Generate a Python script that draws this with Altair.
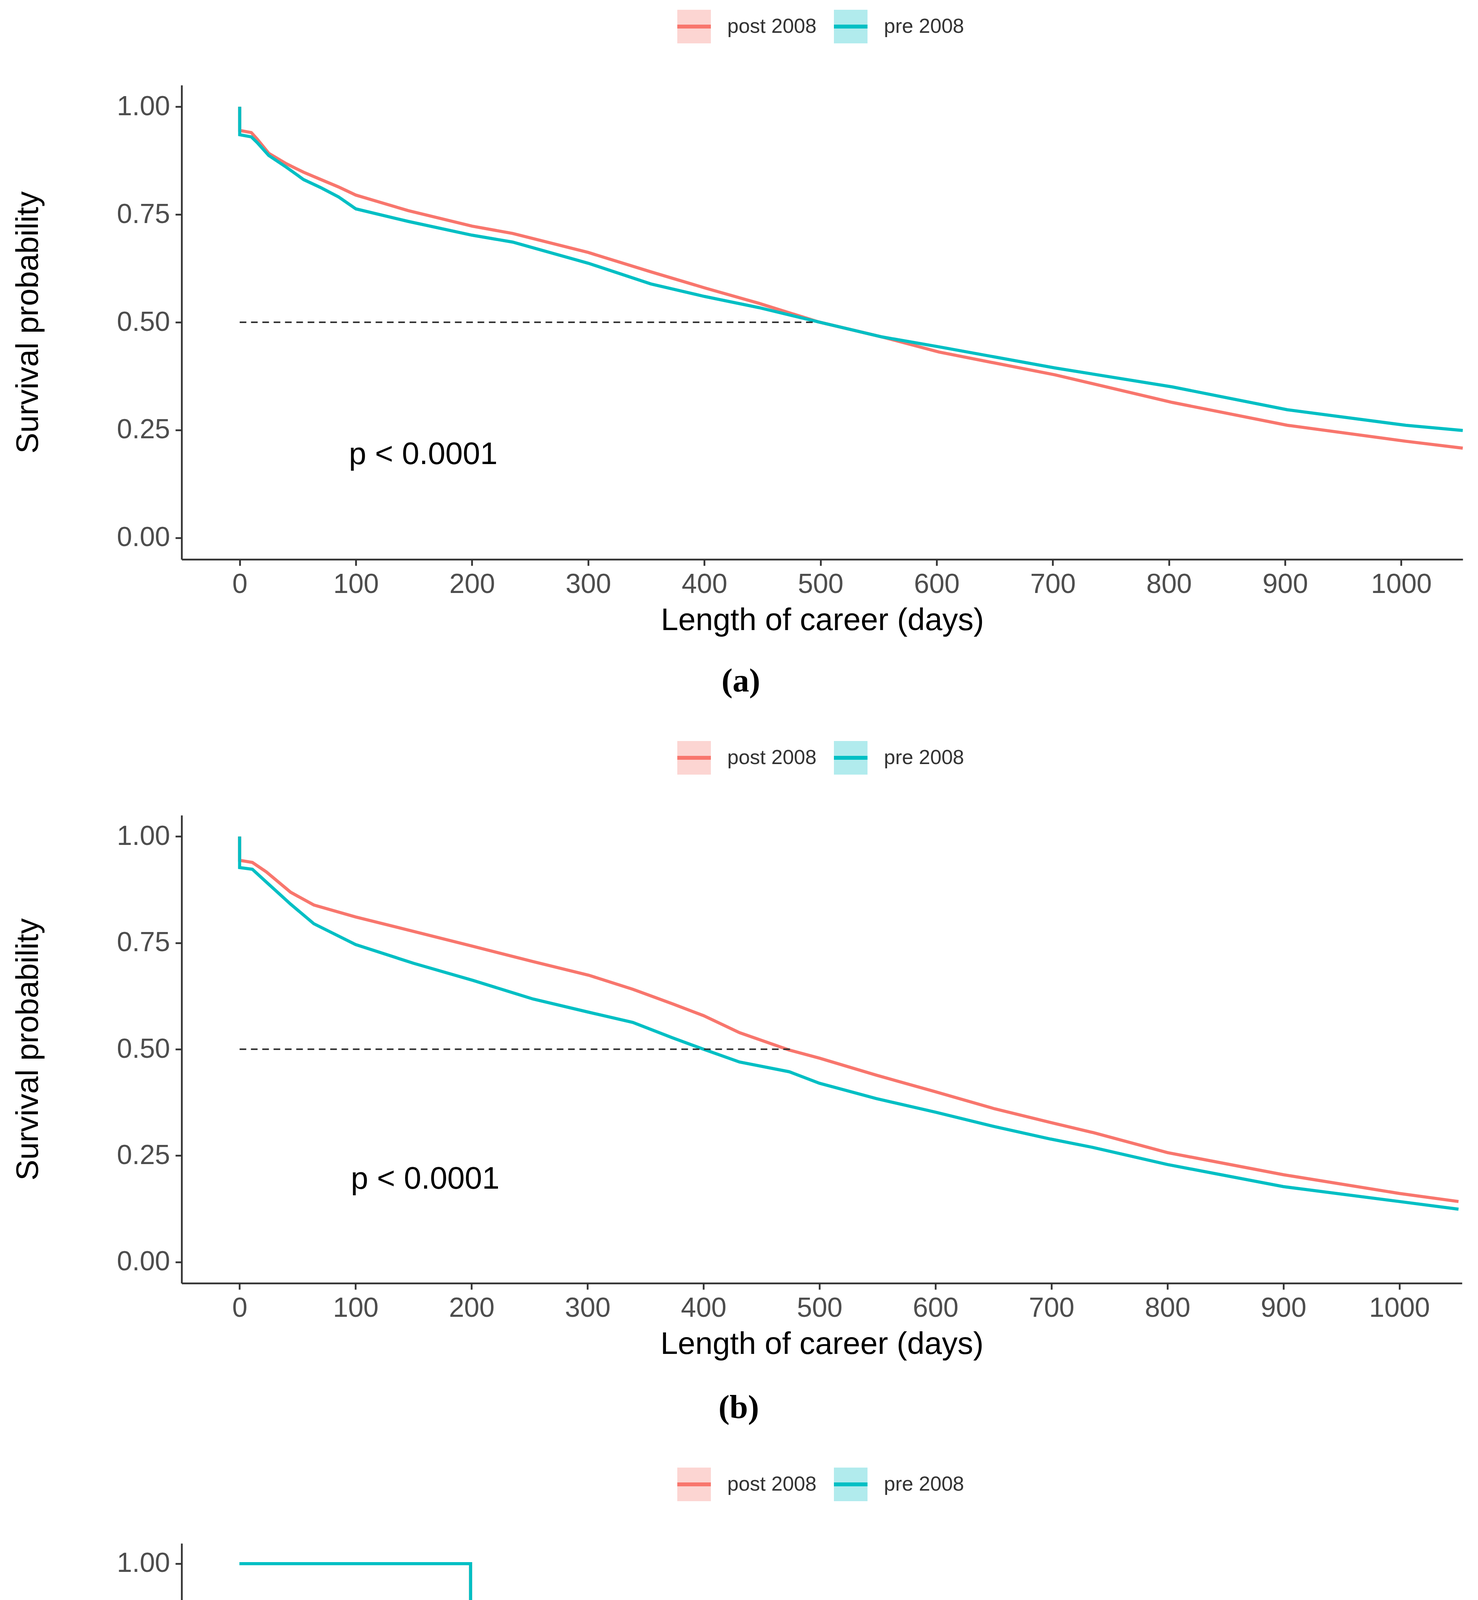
import altair as alt
import pandas as pd

GROUPS = ["post 2008", "pre 2008"]
COLORS = ["#F8766D", "#00BFC4"]

# ---- Panel (a): length of career (days) ----
a_days = [0, 0, 10, 15, 25, 40, 55, 70, 85, 100, 145, 200, 235, 300, 354, 400,
          447, 498, 553, 602, 702, 803, 902, 1004, 1053]
a_post = [1.0, 0.945, 0.94, 0.925, 0.892, 0.868, 0.848, 0.831, 0.814, 0.795, 0.759,
          0.723, 0.706, 0.662, 0.617, 0.580, 0.544, 0.501, 0.466, 0.431, 0.378,
          0.314, 0.261, 0.224, 0.208]
a_pre = [1.0, 0.935, 0.93, 0.917, 0.887, 0.860, 0.831, 0.812, 0.791, 0.763, 0.734,
         0.702, 0.686, 0.637, 0.589, 0.560, 0.534, 0.501, 0.466, 0.443, 0.394,
         0.350, 0.297, 0.261, 0.249]
a_median_end = 497
a_pval = "p < 0.0001"
a_pval_pos = [158, 0.193]

# ---- Panel (b): length of career (days) ----
b_days = [0, 0, 11, 23, 44, 64, 100, 150, 201, 253, 301, 339, 373, 400, 431, 474,
          500, 549, 600, 651, 699, 736, 800, 900, 1000, 1051]
b_post = [1.0, 0.944, 0.939, 0.917, 0.869, 0.839, 0.811, 0.777, 0.742, 0.706, 0.674,
          0.641, 0.607, 0.579, 0.539, 0.498, 0.479, 0.439, 0.400, 0.360, 0.328,
          0.304, 0.257, 0.205, 0.161, 0.142]
b_pre = [1.0, 0.927, 0.923, 0.893, 0.841, 0.795, 0.746, 0.702, 0.662, 0.618, 0.587,
         0.563, 0.527, 0.500, 0.470, 0.447, 0.420, 0.384, 0.352, 0.318, 0.289,
         0.269, 0.229, 0.177, 0.142, 0.124]
b_median_end = 476
b_pval = "p < 0.0001"
b_pval_pos = [160, 0.194]

# ---- Panel (c): total number of preps (step curves) ----
c_preps = [0, 1, 2, 3, 4, 5, 5.25]
c_post = [1.0, 0.777, 0.558, 0.368, 0.228, 0.135, 0.135]
c_pre = [1.0, 0.730, 0.505, 0.347, 0.228, 0.146, 0.146]
c_median_end = 3
c_pval = "p = 0.17"
c_pval_pos = [0.54, 0.191]

CI_HALF = 0.009
Y_TICKS = [0, 0.25, 0.5, 0.75, 1.0]
FONT = "Liberation Sans"
LEG_FONT = 52
POST_LABEL_W = 229  # rendered width of the "post 2008" legend label
LEG_GAP = 24


def curves(t, post, pre):
    rows = []
    for g, vals in zip(GROUPS, [post, pre]):
        for i, (tt, v) in enumerate(zip(t, vals)):
            rows.append({"t": tt, "s": v, "grp": g, "grp_f": g, "idx": i})
    return pd.DataFrame(rows)


def panel(df, med_end, pval, pval_pos, xdomain, xticks, xtitle, width, height,
          caption, interp, dash, dash_w, dash_color, cap_offset, legend_y):
    xs = alt.Scale(domain=xdomain, nice=False, zero=False)
    ys = alt.Scale(domain=[-0.05, 1.05], nice=False, zero=False)
    x_enc = alt.X("t:Q", scale=xs,
                  axis=alt.Axis(values=xticks, title=xtitle, format="d", titlePadding=18))
    y_axis = alt.Axis(values=Y_TICKS, format=".2f", title="Survival probability",
                      titlePadding=185)

    leg_common = dict(orient="none", legendX=1264, legendY=legend_y, direction="horizontal",
                      title=None, symbolSize=86 * 86, symbolStrokeWidth=10,
                      labelFont=FONT, labelFontSize=LEG_FONT, labelLimit=1000,
                      labelColor="#333333", labelOffset=37, padding=0)

    band = alt.Chart(df).transform_calculate(
        lo=f"datum.s - {CI_HALF}", hi=f"datum.s + {CI_HALF}"
    ).mark_area(interpolate=interp, opacity=0.3).encode(
        x=x_enc,
        y=alt.Y("lo:Q", scale=ys, axis=y_axis),
        y2="hi:Q",
        fill=alt.Fill("grp_f:N", scale=alt.Scale(range=COLORS),
                      legend=alt.Legend(symbolType="square", symbolOpacity=0.3,
                                        symbolStrokeColor="transparent",
                                        labelExpr="''", columnPadding=LEG_GAP + POST_LABEL_W,
                                        **leg_common)),
        order=alt.Order("idx:Q"),
    )
    line = alt.Chart(df).mark_line(interpolate=interp, strokeWidth=8).encode(
        x=x_enc,
        y=alt.Y("s:Q", scale=ys, axis=y_axis),
        stroke=alt.Stroke("grp:N", scale=alt.Scale(range=COLORS),
                          legend=alt.Legend(symbolType="stroke", columnPadding=LEG_GAP,
                                            **leg_common)),
        order=alt.Order("idx:Q"),
    )
    med = alt.Chart(pd.DataFrame({"t": [0, med_end], "s": [0.5, 0.5]})).mark_line(
        strokeDash=dash, strokeWidth=dash_w, color=dash_color
    ).encode(x=x_enc, y=alt.Y("s:Q", scale=ys, axis=y_axis))
    txt = alt.Chart(pd.DataFrame({"t": [pval_pos[0]], "s": [pval_pos[1]], "label": [pval]})).mark_text(
        font=FONT, fontSize=80, color="#000000", align="center", baseline="middle"
    ).encode(x=x_enc, y=alt.Y("s:Q", scale=ys, axis=y_axis), text="label:N")

    return alt.layer(band, line, med, txt).properties(
        width=width, height=height,
        title=alt.TitleParams(caption, orient="bottom", font="Liberation Serif", fontSize=85,
                              fontWeight="bold", color="#000000", offset=cap_offset,
                              anchor="middle", frame="bounds"),
    )


pa = panel(curves(a_days, a_post, a_pre), a_median_end, a_pval, a_pval_pos,
           [-50, 1053], list(range(0, 1001, 100)), "Length of career (days)",
           3280, 1214, "(a)", "linear", [17, 12], 4, "#333333", 75, -198)
pb = panel(curves(b_days, b_post, b_pre), b_median_end, b_pval, b_pval_pos,
           [-50, 1054], list(range(0, 1001, 100)), "Length of career (days)",
           3278, 1198, "(b)", "linear", [17, 12], 4, "#333333", 82, -195)
pc = panel(curves(c_preps, c_post, c_pre), c_median_end, c_pval, c_pval_pos,
           [-0.25, 5.25], [0, 1, 2, 3, 4, 5], "Total number of preps",
           3255, 1143, "(c)", "step-after", [12, 22], 9, "#555555", 100, -199)

chart = alt.vconcat(pa, pb, pc, spacing=105).resolve_scale(
    x="independent", y="independent", fill="independent", stroke="independent"
).resolve_legend(fill="independent", stroke="independent").properties(
    padding={"left": 24, "top": 12, "right": 5, "bottom": 5},
    background="white",
).configure_view(stroke=None).configure_axis(
    grid=False, labelFont=FONT, labelFontSize=70, labelColor="#4D4D4D",
    titleFont=FONT, titleFontSize=80, titleFontWeight="normal", titleColor="#000000",
    domainColor="#333333", domainWidth=4.5, tickColor="#333333", tickWidth=4.5,
    tickSize=16, labelPadding=14,
)

chart.save("out.html", embed_options={"renderer": "svg", "actions": False})
